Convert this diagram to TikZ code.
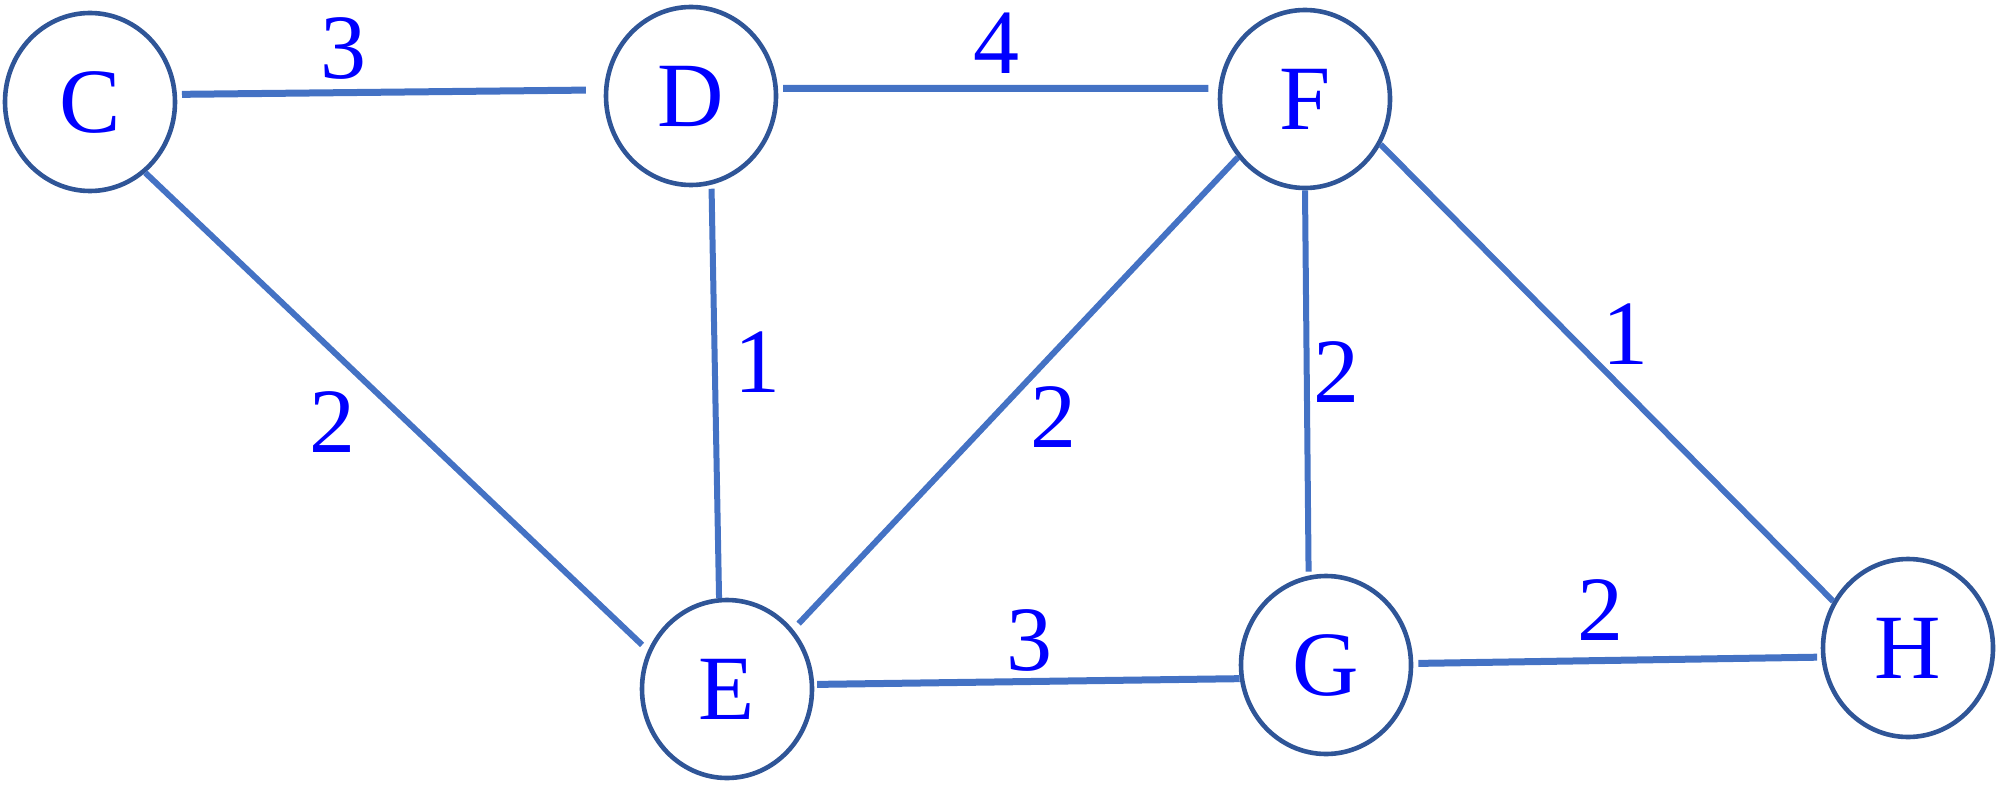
\documentclass[tikz,border=0pt]{standalone}
\usepackage{fontspec}
\setmainfont{Liberation Serif}
\usetikzlibrary{shapes.geometric}
\definecolor{ringblue}{RGB}{47,85,151}
\definecolor{edgeblue}{RGB}{68,114,196}
\definecolor{textblue}{RGB}{0,0,255}
\tikzset{
  vertex/.style={ellipse, draw=ringblue, line width=2.3pt, inner sep=0pt,
    minimum width=85pt, minimum height=89pt, text=textblue,
    font=\fontsize{46}{50}\selectfont},
  edge/.style={draw=edgeblue, line width=3pt},
  thick edge/.style={draw=edgeblue, line width=3.5pt},
  weight/.style={inner sep=0pt, text=textblue, font=\fontsize{46}{50}\selectfont}
}
\begin{document}
\begin{tikzpicture}[x=0.5pt,y=-0.5pt]
\useasboundingbox (0,0) rectangle (2000,786);
% vertices
\node[vertex] (C) at (90,102) {C};
\node[vertex] (D) at (691,96) {D};
\node[vertex] (F) at (1305,99) {F};
\node[vertex] (E) at (727,689) {E};
\node[vertex] (G) at (1326,665) {G};
\node[vertex] (H) at (1908,648) {H};
% edges
\draw[thick edge, shorten <=2.5pt, shorten >=9pt] (C.5.7) -- (D.176);
\draw[thick edge, shorten <=2.5pt, shorten >=5pt] (D.5.7) -- (F.173.4);
\draw[edge, shorten >=4pt] (C.-52.9) -- (E.154);
\draw[edge, shorten <=2pt] (D.-77) -- (E.95);
\draw[edge, shorten <=4pt] (E.42.4) -- (F.221.3);
\draw[edge, shorten >=2pt] (F.270.6) -- (G.101.2);
\draw[edge] (F.-31.2) -- (H.148.4);
\draw[thick edge, shorten <=1.5pt] (E.3.3) -- (G.189.5);
\draw[thick edge, shorten <=2.5pt, shorten >=2pt] (G.1.9) -- (H.186.4);
% weights
\node[weight] (wCD) at (343,48) {3};
\node[weight] (wDF) at (996,43) {4};
\node[weight] (wCE) at (332,422) {2};
\node[weight] (wDE) at (757,362) {1};
\node[weight] (wEF) at (1053,417) {2};
\node[weight] (wFG) at (1336,372) {2};
\node[weight] (wFH) at (1625,334) {1};
\node[weight] (wEG) at (1029,640) {3};
\node[weight] (wGH) at (1600,610) {2};
\end{tikzpicture}
\end{document}
